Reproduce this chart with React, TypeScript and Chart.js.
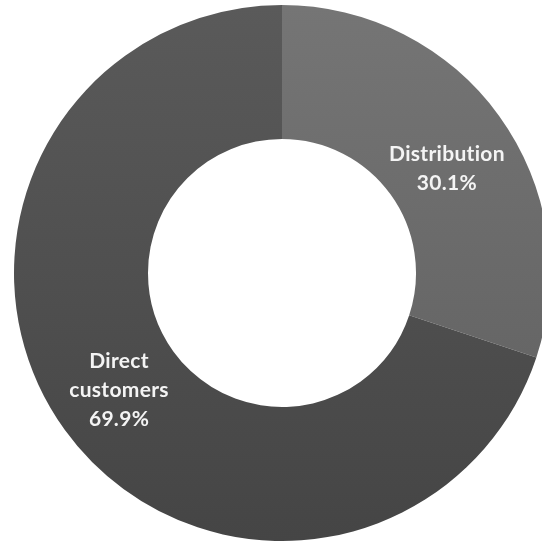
import React, { useEffect, useRef } from "react";
import { Chart, registerables } from "chart.js";

Chart.register(...registerables);

const categories = ["Distribution", "Direct customers"];
const shares = [30.1, 69.9];
const labelLines = [["Distribution", "30.1%"], ["Direct", "customers", "69.9%"]];
const gradientTop = ["#757575", "#5a5a5a"];
const gradientBottom = ["#5e5e5e", "#454545"];

const labelPlugin = {
  id: "sliceLabels",
  afterDatasetsDraw(chart: any) {
    const { ctx } = chart;
    const meta = chart.getDatasetMeta(0);
    const offsets = [[2, 13], [0, 0]];
    ctx.save();
    ctx.fillStyle = "#f4f4f4";
    ctx.font = "bold 21px Lato";
    try { (ctx as any).letterSpacing = "0.3px"; } catch (e) {}
    ctx.textAlign = "center";
    ctx.textBaseline = "middle";
    meta.data.forEach((arc: any, i: number) => {
      const p = arc.tooltipPosition();
      const lines = labelLines[i];
      const lh = 29;
      const startY = p.y + offsets[i][1] - ((lines.length - 1) * lh) / 2;
      lines.forEach((t, j) => {
        ctx.fillText(t, p.x + offsets[i][0], startY + j * lh);
      });
    });
    ctx.restore();
  },
};

export default function App() {
  const ref = useRef<HTMLCanvasElement | null>(null);
  useEffect(() => {
    if (!ref.current) return;
    const chart = new Chart(ref.current, {
      type: "doughnut",
      data: {
        labels: categories,
        datasets: [
          {
            data: shares,
            borderWidth: 0,
            backgroundColor: (c: any) => {
              const chart = c.chart;
              const area = chart.chartArea;
              const i = c.dataIndex;
              if (!area) return gradientTop[i];
              const g = chart.ctx.createLinearGradient(0, area.top, 0, area.bottom);
              g.addColorStop(0, gradientTop[i]);
              g.addColorStop(1, gradientBottom[i]);
              return g;
            },
          },
        ],
      },
      options: {
        animation: false,
        responsive: true,
        maintainAspectRatio: false,
        cutout: "50%",
        layout: { padding: 0 },
        plugins: { legend: { display: false }, tooltip: { enabled: false } },
      },
      plugins: [labelPlugin],
    });
    return () => chart.destroy();
  }, []);
  return (
    <div style={{ position: "fixed", left: 0, top: 0, width: 542, height: 550, overflow: "hidden", background: "#fff" }}>
      <div style={{ position: "absolute", left: 14, top: 5, width: 536, height: 536 }}>
        <canvas ref={ref} />
      </div>
    </div>
  );
}
